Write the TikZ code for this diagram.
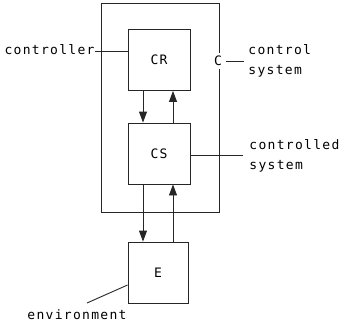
\documentclass[tikz,border=0pt]{standalone}
\usepackage{fontspec}
\setmonofont{DejaVu Sans Mono}
\usetikzlibrary{arrows.meta}
\begin{document}
\begin{tikzpicture}[x=1pt,y=-1pt,
  line width=0.9pt, draw=black!85,
  txt/.style={font=\fontsize{13}{20}\ttfamily\addfontfeature{LetterSpace=10}, inner sep=0pt, text=black},
  blk/.style={draw, minimum width=62pt, minimum height=61pt, inner sep=0pt, txt},
  arr/.style={-{Triangle[length=11pt,width=8pt]}}]
\useasboundingbox (0,0) rectangle (340,325);
\draw (101,3) rectangle (219,212);
\node[blk] (CR) at (159,60) {CR};
\node[blk] (CS) at (159,153.5) {CS};
\node[blk, minimum width=60pt] (E) at (158,272.5) {E};
\node[txt, fill=white, inner ysep=3pt] (C) at (218,61) {C};
% arrows
\draw[arr] (CR.south -| 143,0) -- (CS.north -| 143,0);
\draw[arr] (CS.north -| 173,0) -- (CR.south -| 173,0);
\draw[arr] (CS.south -| 143,0) -- (E.north -| 143,0);
\draw[arr] (E.north -| 173,0) -- (CS.south -| 173,0);
% labels
\node[txt, anchor=east] (lctl) at (95,50) {controller};
\draw (lctl.east |- 0,51) -- (CR.west |- 0,51);
\node[txt, anchor=west, align=left] (lcs) at (248,61) {control\\system};
\draw (226,61) -- (244,61);
\node[txt, anchor=west, align=left] (lcd) at (249,156) {controlled\\system};
\draw (CS.east |- 0,155) -- (243,155);
\node[txt, anchor=west] (lenv) at (27,315) {environment};
\coordinate (envp) at (87,303);
\draw (E.west |- 0,285) -- (envp);
\end{tikzpicture}
\end{document}
